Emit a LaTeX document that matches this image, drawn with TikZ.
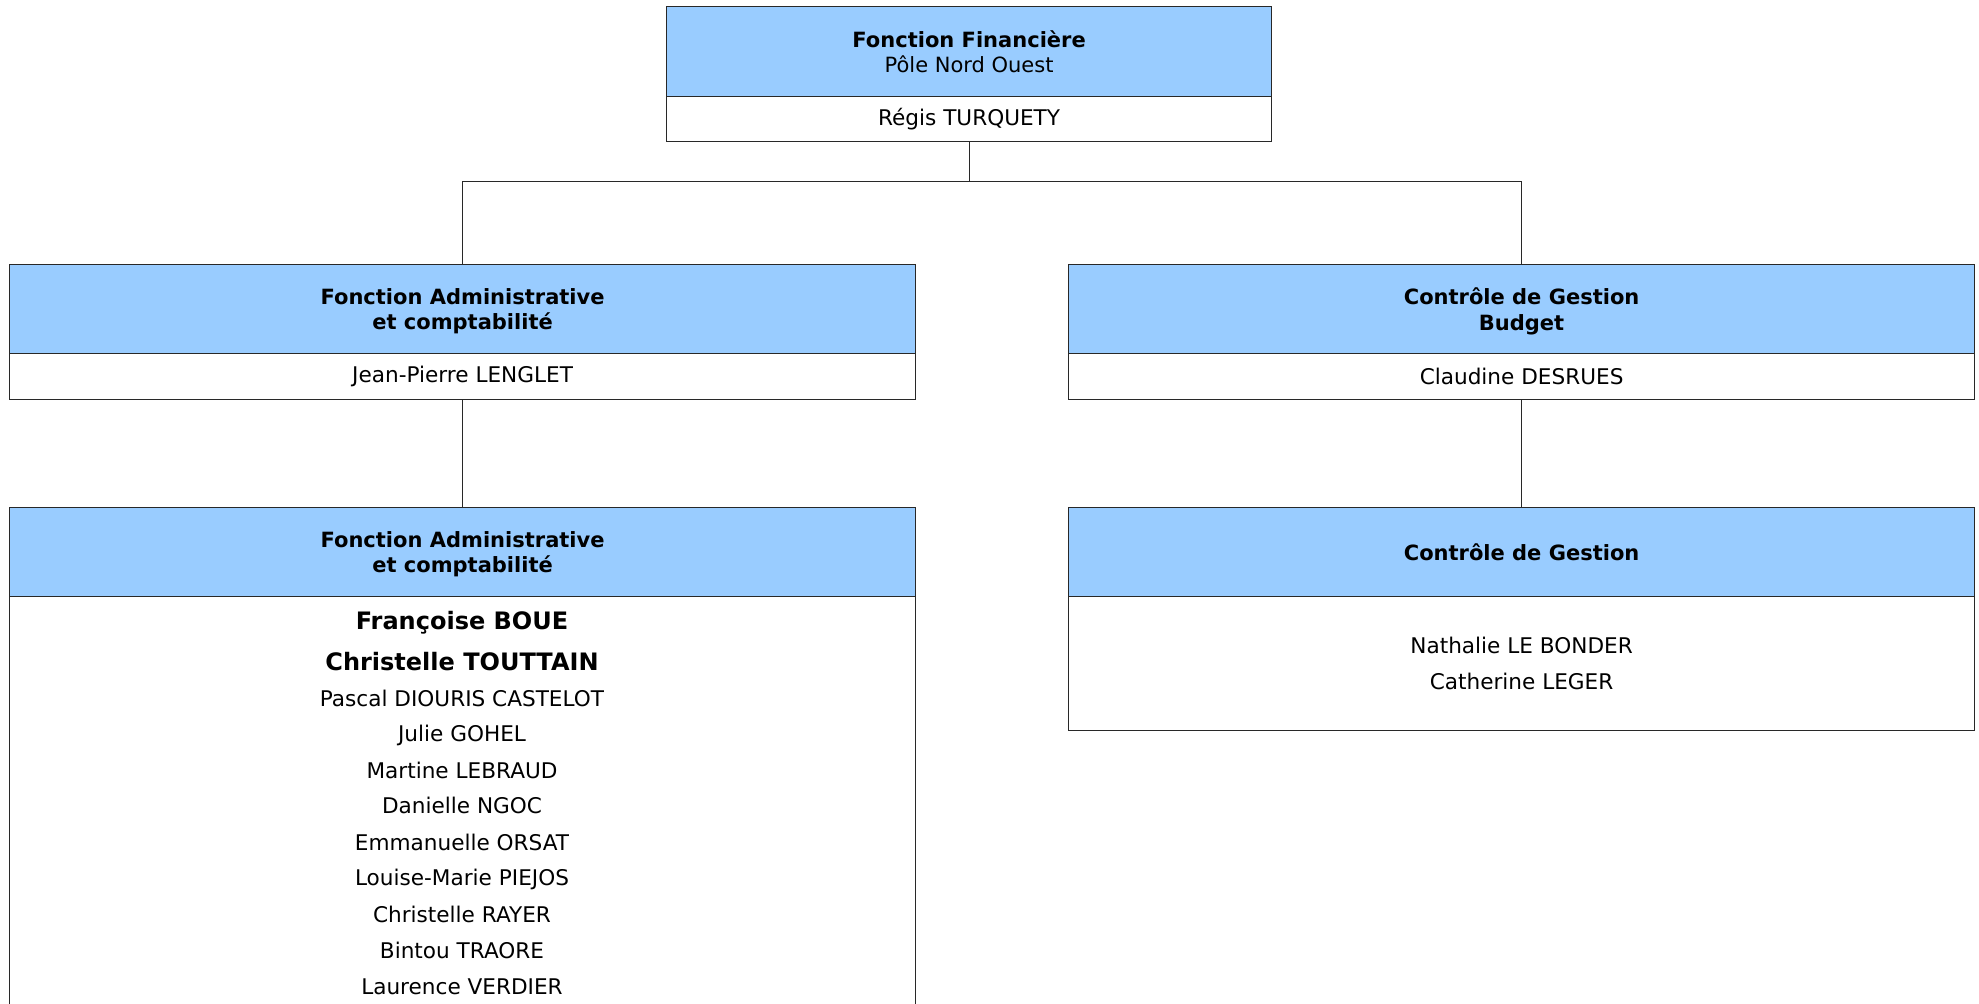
\documentclass[tikz,border=0pt]{standalone}
\usepackage{fontspec}
\setmainfont{DejaVu Sans}
\definecolor{hblue}{RGB}{153,204,255}
\definecolor{lne}{RGB}{40,40,40}
\begin{document}
\begin{tikzpicture}[x=0.5pt,y=-0.5pt,
  boxbase/.style={draw=lne, line width=0.6pt, rectangle, inner sep=0pt, anchor=north west, align=center},
  hdr/.style={boxbase, fill=hblue, text depth=0pt, font=\fontsize{10.5}{12.6}\selectfont},
  bdy/.style={boxbase, fill=white, font=\fontsize{10.8}{18.3}\selectfont},
  nm/.style={anchor=base, font=\fontsize{10.8}{12}\selectfont},
  bnm/.style={anchor=base, font=\fontsize{12}{14}\selectfont\bfseries},
  conn/.style={draw=lne, line width=0.6pt}]
\useasboundingbox (0,0) rectangle (1979,1004);
\clip (0,0) rectangle (1979,1004);
\fill[white] (0,0) rectangle (1979,1004);

% top box
\node[hdr, minimum width=302.5pt, minimum height=45pt] (tH) at (666,6) {\textbf{Fonction Financière}\\Pôle Nord Ouest};
\node[bdy, minimum width=302.5pt, minimum height=22.5pt] (tB) at (666,96) {Régis TURQUETY};

% level 2
\node[hdr, minimum width=453pt, minimum height=44.5pt] (lH) at (9,264) {\textbf{Fonction Administrative}\\\textbf{et comptabilité}};
\node[bdy, minimum width=453pt, minimum height=23pt] (lB) at (9,353) {Jean-Pierre LENGLET};
\node[hdr, minimum width=453pt, minimum height=44.5pt] (rH) at (1068,264) {\textbf{Contrôle de Gestion}\\\textbf{Budget}};
\node[bdy, minimum width=453pt, minimum height=23pt] (rB) at (1068,353) {Claudine DESRUES};

% level 3
\node[hdr, minimum width=453pt, minimum height=44.5pt] (llH) at (9,507) {\textbf{Fonction Administrative}\\\textbf{et comptabilité}};
\node[bdy, minimum width=453pt, minimum height=220pt] (llB) at (9,596) {};
\node[hdr, minimum width=453pt, minimum height=44.5pt] (rrH) at (1068,507) {\textbf{Contrôle de Gestion}};
\node[bdy, minimum width=453pt, minimum height=67pt] (rrB) at (1068,596) {Nathalie LE BONDER\\Catherine LEGER};

% names of the left lower box
\node[bnm] (n1) at (462,630) {Françoise BOUE};
\node[bnm] (n2) at (462,670) {Christelle TOUTTAIN};
\node[nm] (n3) at (462,706) {Pascal DIOURIS CASTELOT};
\node[nm] (n4) at (462,741) {Julie GOHEL};
\node[nm] (n5) at (462,778) {Martine LEBRAUD};
\node[nm] (n6) at (462,813) {Danielle NGOC};
\node[nm] (n7) at (462,850) {Emmanuelle ORSAT};
\node[nm] (n8) at (462,885) {Louise-Marie PIEJOS};
\node[nm] (n9) at (462,922) {Christelle RAYER};
\node[nm] (n10) at (462,958) {Bintou TRAORE};
\node[nm] (n11) at (462,994) {Laurence VERDIER};

% connectors
\draw[conn] (tB.south) -- ++(0,39) coordinate (bus);
\draw[conn] (lH.north) |- (bus) -| (rH.north);
\draw[conn] (lB.south) -- (llH.north);
\draw[conn] (rB.south) -- (rrH.north);
\end{tikzpicture}
\end{document}
